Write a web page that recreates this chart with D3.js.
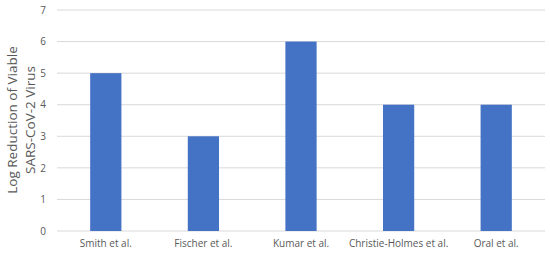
<!DOCTYPE html>
<html>
<head>
<meta charset="utf-8">
<script src="https://cdn.jsdelivr.net/npm/d3@7"></script>
<style>
  body { margin: 0; background: #fff; }
  text { font-family: "Open Sans", sans-serif; fill: #595959; }
</style>
</head>
<body>
<div id="chart-area"></div>
<script>
const studies = ['Smith et al.', 'Fischer et al.', 'Kumar et al.', 'Christie-Holmes et al.', 'Oral et al.'];
const logReduction = [5, 3, 6, 4, 4];
const yTicks = [0, 1, 2, 3, 4, 5, 6, 7];

const margins = { top: 10, right: 5, bottom: 23, left: 57 };
const width = 550 - margins.left - margins.right;
const height = 254 - margins.top - margins.bottom;

const svg = d3.select('#chart-area')
  .append('svg')
  .attr('width', 550)
  .attr('height', 254);

const g = svg.append('g')
  .attr('transform', 'translate(' + margins.left + ', ' + margins.top + ')');

const x = d3.scaleBand()
  .domain(studies)
  .range([0, width])
  .paddingInner(0.68)
  .paddingOuter(0.34);

const y = d3.scaleLinear()
  .domain([0, 7])
  .range([height, 0]);

// gridlines
g.selectAll('line.grid')
  .data(yTicks)
  .enter()
  .append('line')
  .attr('class', 'grid')
  .attr('x1', 0)
  .attr('x2', width)
  .attr('y1', (d) => y(d))
  .attr('y2', (d) => y(d))
  .attr('stroke', '#d9d9d9')
  .attr('stroke-width', 1);

const yAxis = d3.axisLeft(y).tickValues(yTicks).tickFormat(d3.format('d')).tickSize(0).tickPadding(11);
const yg = g.append('g').call(yAxis);
yg.select('.domain').remove();
yg.selectAll('text').attr('font-size', 10).style('fill', '#595959');

const xAxis = d3.axisBottom(x).tickSize(0).tickPadding(9);
const xg = g.append('g')
  .attr('transform', 'translate(0, ' + height + ')')
  .call(xAxis);
xg.select('.domain').remove();
xg.selectAll('text').attr('font-size', 10).style('fill', '#595959');

g.selectAll('rect')
  .data(studies)
  .enter()
  .append('rect')
  .attr('x', (d) => x(d))
  .attr('y', (d, i) => y(logReduction[i]))
  .attr('width', x.bandwidth())
  .attr('height', (d, i) => height - y(logReduction[i]))
  .attr('fill', '#4472c4');

const title = svg.append('text')
  .attr('transform', 'translate(17, 120) rotate(-90)')
  .attr('text-anchor', 'middle')
  .attr('font-size', 13.5);
title.append('tspan').attr('x', 0).attr('dy', 0).text('Log Reduction of Viable');
title.append('tspan').attr('x', 0).attr('dy', 18).text('SARS-CoV-2 Virus');
</script>
</body>
</html>
